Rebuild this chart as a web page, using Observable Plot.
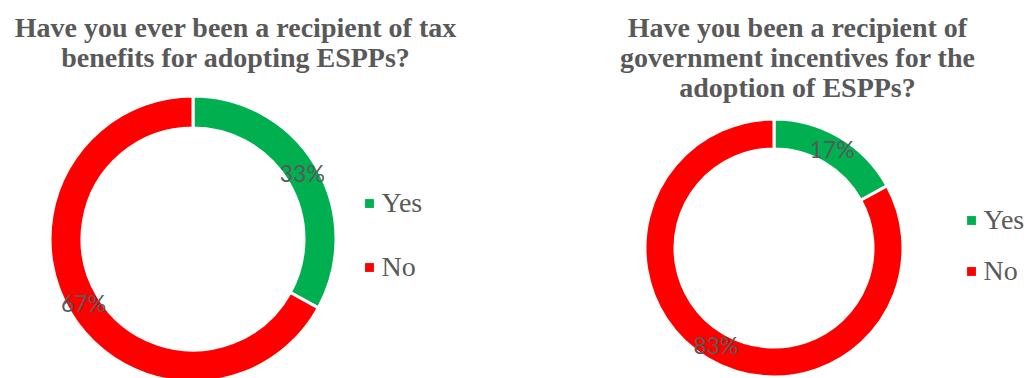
<!DOCTYPE html>
<html><head><meta charset="utf-8">
<script src="https://cdn.jsdelivr.net/npm/d3@7"></script>
<script src="https://cdn.jsdelivr.net/npm/@observablehq/plot@0.6"></script>
<style>body{margin:0;background:#fff;overflow:hidden}</style>
</head><body><div id="chart"></div>
<script>
// ---- data ----
const categories = ["Yes", "No"];
const categoryColors = ["#00B050", "#FF0000"];
const chart1Title = ["Have you ever been a recipient of tax", "benefits for adopting ESPPs?"];
const chart1Values = [33, 67];
const chart2Title = ["Have you been a recipient of", "government incentives for the", "adoption of ESPPs?"];
const chart2Values = [17, 83];

// ---- layout ----
const W = 1027, H = 378;
const charts = [
  {id: 1, title: chart1Title, values: chart1Values, cx: 193, cy: 239, r0: 111, r1: 143, titleX: 235, titleY: 15, legendX: 369, legendY: [203, 267]},
  {id: 2, title: chart2Title, values: chart2Values, cx: 774, cy: 248, r0: 99, r1: 129, titleX: 797, titleY: 15, legendX: 971, legendY: [220, 271]}
];

const slices = charts.flatMap(c => categories.map((cat, i) => ({chart: c.id, category: cat, value: c.values[i]})));
const legendRows = charts.flatMap(c => categories.map((cat, i) => ({chart: c.id, category: cat, x: c.legendX, y: c.legendY[i]})));
const titles = charts.map(c => ({text: c.title.join("\n"), x: c.titleX, y: c.titleY}));

function donuts(index, scales) {
  const g = d3.create("svg:g");
  for (const c of charts) {
    const data = slices.filter(d => d.chart === c.id);
    const pie = d3.pie().sort(null).value(d => d.value)(data);
    const arc = d3.arc().innerRadius(c.r0).outerRadius(c.r1);
    const gg = g.append("g").attr("transform", `translate(${scales.x(c.cx)},${scales.y(c.cy)})`);
    gg.selectAll("path").data(pie).join("path")
      .attr("d", arc)
      .attr("fill", d => scales.color(d.data.category))
      .attr("stroke", "#fff").attr("stroke-width", 3).attr("stroke-linejoin", "miter");
    gg.selectAll("text").data(pie).join("text")
      .attr("transform", d => `translate(${arc.centroid(d)})`)
      .attr("text-anchor", "middle").attr("dy", "0.35em")
      .attr("font-family", "Lato, 'Open Sans', sans-serif")
      .attr("font-size", 23).attr("fill", "#595959")
      .text(d => `${d.data.value}%`);
  }
  return g.node();
}

const plot = Plot.plot({
  width: W, height: H,
  margin: 0,
  x: {domain: [0, W], range: [0, W], axis: null},
  y: {domain: [0, H], range: [0, H], axis: null},
  color: {domain: categories, range: categoryColors},
  style: {background: "#fff", overflow: "visible"},
  marks: [
    donuts,
    Plot.text(titles, {x: "x", y: "y", text: "text", textAnchor: "middle", lineAnchor: "top",
      lineHeight: 1.07, fontSize: 28, fontWeight: "bold", fontFamily: "'Liberation Serif', 'DejaVu Serif', serif", fill: "#595959"}),
    Plot.dot(legendRows, {x: "x", y: "y", fill: "category", symbol: "square", r: 5, stroke: null}),
    Plot.text(legendRows, {x: d => d.x + 12, y: "y", text: "category", textAnchor: "start",
      fontSize: 28, fontFamily: "'Liberation Serif', 'DejaVu Serif', serif", fill: "#595959"})
  ]
});
document.getElementById("chart").append(plot);
</script>
</body></html>
